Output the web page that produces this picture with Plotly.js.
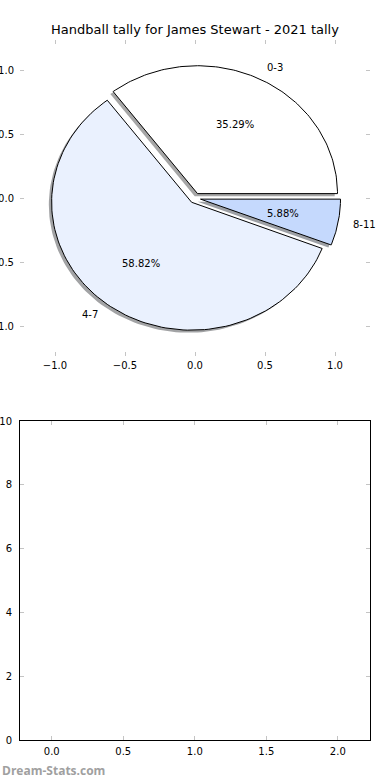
<!DOCTYPE html>
<html>
<head>
<meta charset="utf-8">
<script src="https://cdn.plot.ly/plotly-3.0.1.min.js"></script>
<style>
html,body{margin:0;padding:0;background:#fff;}
#chart{width:390px;height:780px;}
</style>
</head>
<body>
<div id="chart"></div>
<script>
// ---- data ----
const titleText = 'Handball tally for James Stewart - 2021 tally';
const sliceLabels = ['0-3', '4-7', '8-11'];
const sliceCounts = [6, 10, 1];
const pieTicks = [-1.0, -0.5, 0.0, 0.5, 1.0];
const lowerXTicks = [0.0, 0.5, 1.0, 1.5, 2.0];
const lowerYTicks = [0, 2, 4, 6, 8, 10];
const watermark = 'Dream-Stats.com';

// ---- style ----
const sliceColors = ['#ffffff', '#eaf1fe', '#c5d9fd'];
const shadowColors = ['rgba(77,77,77,0.5)', 'rgba(70,72,76,0.5)', 'rgba(59,65,76,0.5)'];
const explode = 0.04;
const shadowOff = -0.02;
const font = 'DejaVu Sans, sans-serif';

const total = sliceCounts.reduce((a, b) => a + b, 0);
const shadowTraces = [], wedgeTraces = [], annotations = [];
let start = 0;
sliceCounts.forEach((c, i) => {
  const frac = c / total;
  const t1 = start, t2 = start + 360 * frac;
  start = t2;
  const mid = (t1 + t2) / 2 * Math.PI / 180;
  const cx = explode * Math.cos(mid), cy = explode * Math.sin(mid);
  const xs = [cx], ys = [cy];
  const n = 120;
  for (let k = 0; k <= n; k++) {
    const t = (t1 + (t2 - t1) * k / n) * Math.PI / 180;
    xs.push(cx + Math.cos(t));
    ys.push(cy + Math.sin(t));
  }
  xs.push(cx); ys.push(cy);
  shadowTraces.push({
    type: 'scatter', mode: 'lines', x: xs.map(v => v + shadowOff), y: ys.map(v => v + shadowOff),
    fill: 'toself', fillcolor: shadowColors[i], line: {width: 0, color: 'rgba(0,0,0,0)'},
    hoverinfo: 'skip', showlegend: false, xaxis: 'x', yaxis: 'y'
  });
  wedgeTraces.push({
    type: 'scatter', mode: 'lines', x: xs, y: ys,
    fill: 'toself', fillcolor: sliceColors[i], line: {width: 1, color: '#000'},
    hoverinfo: 'skip', showlegend: false, xaxis: 'x', yaxis: 'y'
  });
  const lx = cx + 1.1 * Math.cos(mid), ly = cy + 1.1 * Math.sin(mid);
  annotations.push({
    x: lx, y: ly, xref: 'x', yref: 'y', text: sliceLabels[i], showarrow: false,
    xanchor: lx > 0 ? 'left' : 'right', yanchor: 'middle', borderpad: 0,
    font: {family: font, size: 10, color: '#000'}
  });
  annotations.push({
    x: cx + 0.6 * Math.cos(mid), y: cy + 0.6 * Math.sin(mid), xref: 'x', yref: 'y',
    text: (frac * 100).toFixed(2) + '%', showarrow: false,
    xanchor: 'center', yanchor: 'middle', borderpad: 0,
    font: {family: font, size: 10, color: '#000'}
  });
});

annotations.push({
  x: -20 / 350, y: -30 / 700, xref: 'paper', yref: 'paper', text: '<b>' + watermark + '</b>',
  showarrow: false, xanchor: 'left', yanchor: 'middle',
  font: {family: 'Open Sans, sans-serif', size: 12, color: '#a0a0a0'}
});

const emptyTrace = {type: 'scatter', mode: 'markers', x: [], y: [], xaxis: 'x2', yaxis: 'y2', showlegend: false};

const tickCommon = {
  ticks: 'inside', ticklen: 4, tickwidth: 1, tickcolor: '#c4c4c4',
  showgrid: false, zeroline: false, fixedrange: true,
  tickfont: {family: font, size: 10, color: '#000'}
};

const layout = {
  width: 390, height: 780,
  margin: {l: 20, r: 20, t: 40, b: 40, pad: 0},
  paper_bgcolor: '#fff', plot_bgcolor: 'rgba(0,0,0,0)',
  showlegend: false,
  title: {
    text: titleText, x: 0.5, xref: 'paper', xanchor: 'center',
    y: 1 - 29 / 780, yref: 'container', yanchor: 'middle',
    font: {family: font, size: 13, color: '#000'}
  },
  xaxis: Object.assign({}, tickCommon, {
    domain: [0, 1], anchor: 'y', range: [-1.25, 1.25], ticklabelstandoff: 2,
    tickvals: pieTicks, tickformat: '.1f', showline: false, mirror: 'ticks'
  }),
  yaxis: Object.assign({}, tickCommon, {
    domain: [0.548, 1], anchor: 'x', range: [-1.237, 1.237], ticklabelstandoff: 5,
    tickvals: pieTicks, tickformat: '.1f', showline: false, mirror: 'ticks'
  }),
  xaxis2: Object.assign({}, tickCommon, {
    domain: [0, 1], anchor: 'y2', range: [-0.222, 2.225], ticklabelstandoff: 2,
    tickvals: lowerXTicks, tickformat: '.1f', showline: true, linecolor: '#000', linewidth: 1, mirror: 'ticks'
  }),
  yaxis2: Object.assign({}, tickCommon, {
    domain: [0, 0.4557], anchor: 'x2', range: [0, 10], ticklabelstandoff: 5,
    tickvals: lowerYTicks, showline: true, linecolor: '#000', linewidth: 1, mirror: 'ticks'
  }),
  annotations: annotations
};

Plotly.newPlot('chart', shadowTraces.concat(wedgeTraces, [emptyTrace]), layout, {staticPlot: true, displayModeBar: false});
</script>
</body>
</html>
